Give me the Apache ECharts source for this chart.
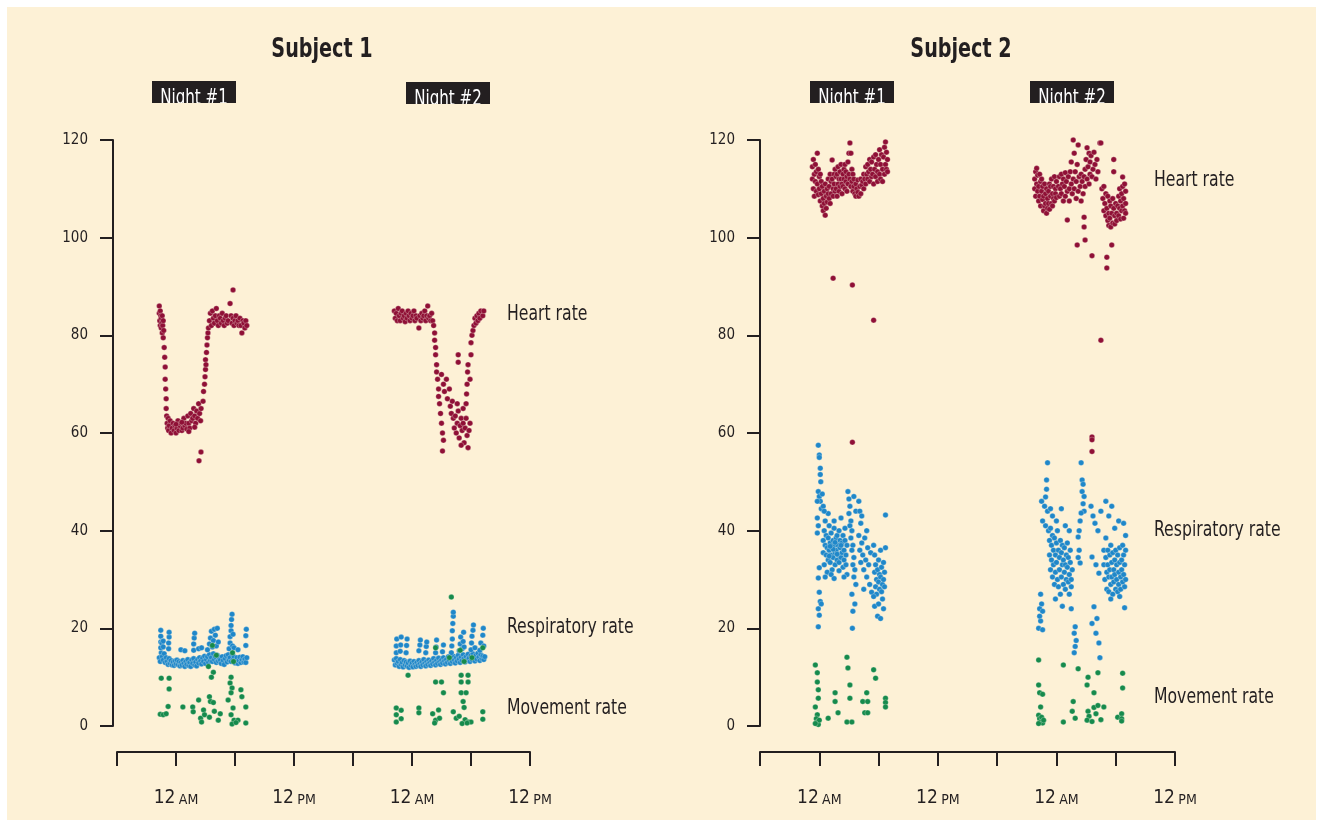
<!DOCTYPE html>
<html><head><meta charset="utf-8">
<script src="https://cdn.jsdelivr.net/npm/echarts@6/dist/echarts.min.js"></script>
<style>html,body{margin:0;padding:0;background:#ffffff}#c{width:1322px;height:827px}</style>
</head><body><div id="c"></div>
<script>
// ---- data: [hours from midnight of night 1, value] ----
const xLabelHours = [0, 12, 24, 36];
const xLabelText = ['12 AM', '12 PM', '12 AM', '12 PM'];
const subjects = ['Subject 1', 'Subject 2'];
const nights = ['Night #1', 'Night #2'];
const seriesNames = ['Heart rate', 'Respiratory rate', 'Movement rate'];

const s1Heart = [
[-1.7,86],[-1.7,84.5],[-1.65,83],[-1.6,85],[-1.6,82],[-1.55,84],[-1.5,83.5],[-1.5,81.5],[-1.45,82.5],[-1.4,84],[-1.4,80.5],[-1.35,82],[-1.3,83],[-1.3,79.5],[-1.25,81],
[-1.2,77.5],[-1.15,75.5],[-1.1,73.5],[-1.1,71],[-1.05,69],[-1.0,67],[-1.0,65],[-0.95,63.5],
[-0.9,62],[-0.85,61],[-0.8,63],[-0.75,60.5],[-0.7,61.5],[-0.6,62.5],[-0.5,60],[-0.4,61],[-0.3,62],[-0.2,60.5],[-0.1,61.5],[0,60],[0.1,61],[0.2,62.5],[0.3,60.5],[0.4,61.5],[0.5,62],[0.6,60.5],[0.7,61],[0.8,63],[0.9,61.5],[1.0,62],[1.1,60.8],[1.2,63.5],[1.3,62],[1.4,61],[1.5,64],[1.6,62.5],[1.7,63],[1.8,65],[1.9,63.5],[2.0,62],[2.1,64.5],[2.2,63],[2.3,66],[2.4,64],[2.5,62.5],[2.55,65],[0.0,61.8],[0.6,62.2],[1.3,60.3],[1.9,61.2],
[2.54,56.1],[2.34,54.3],
[2.75,66.5],[2.8,68.5],[2.9,70],[2.95,71.5],[3.0,73],[3.0,75],[3.05,74],[3.1,76.5],[3.15,78],[3.2,79.5],[3.25,80.5],[3.3,81.5],
[3.4,83],[3.5,84.5],[3.6,82],[3.7,85],[3.8,83.5],[3.9,82.5],[4.0,84],[4.1,85.5],[4.2,83],[4.3,82],[4.4,84],[4.5,83.5],[4.6,82.5],[4.7,84.5],[4.8,83],[4.9,82],[5.0,83.5],[5.1,84],[5.2,82.5],[5.3,83],[5.5,86.5],[5.8,89.3],[5.6,84],[5.7,82.5],[5.8,83.5],[5.9,82],[6.0,83],[6.1,84],[6.2,82.5],[6.3,83],[6.4,82],[6.5,83.5],[6.6,82],[6.7,80.5],[6.8,83],[6.9,82.5],[7.0,81.5],[7.1,83],[7.2,82],
[22.2,85],[22.3,83.5],[22.4,84.5],[22.5,83],[22.6,85.5],[22.7,84],[22.8,83],[22.9,84.5],[23.0,85],[23.1,83.5],[23.2,84],[23.3,82.8],[23.4,84.5],[23.5,83.5],[23.6,85],[23.7,84],[23.8,83],[23.9,84.5],[24.0,83.5],[24.1,84],[24.2,85],[24.3,83],[24.4,84],[24.5,83.5],[24.7,81.5],[24.8,84],[24.9,83],[25.0,84.5],[25.1,83.5],[25.2,84],[25.3,85],[25.4,83],[25.5,84],[25.6,86],[25.7,83.5],[25.8,84],[25.9,83],[26.0,84.5],[26.1,83],
[26.2,82],[26.3,80.5],[26.3,79],[26.4,77.5],[26.4,76],[26.5,74],[26.5,72.5],[26.6,71],[26.7,69],[26.7,67.5],[26.8,66],[26.9,64],[27.0,62],[27.1,60],[27.2,58.5],[27.1,56.3],
[27.0,72],[27.2,70],[27.3,68.5],[27.5,71],[27.6,67],[27.8,69],[27.9,65.5],[28.0,64],[28.1,66.5],[28.2,63],[28.7,76],[28.7,74.5],
[28.3,61],[28.4,63.5],[28.5,60],[28.6,62],[28.7,64.5],[28.8,59],[28.9,61.5],[29.0,63],[29.1,60.5],[29.2,62],[29.3,58],[29.4,61],[29.5,63],[29.6,59.5],[29.7,57],[29.8,60.5],[29.9,62],[29.2,65],[28.6,66],[29.0,57.5],
[29.5,66],[29.55,68],[29.6,70],[29.65,72.5],[29.7,74],[29.9,71],[30.0,76],[30.0,78.5],[30.1,80],[30.2,81],[30.3,82],[30.4,83.5],[30.5,82.5],[30.6,84],[30.7,83],[30.8,84.5],[30.9,83.5],[31.0,85],[31.2,84],[31.3,85]
];

const s1Resp = [
[-1.7,14],[-1.6,13.2],[-1.5,15],[-1.4,14.2],[-1.3,13.5],[-1.2,14.8],[-1.1,13],[-1.0,14],[-0.9,13.2],[-0.8,12.6],[-0.7,13.8],[-0.6,12.8],[-0.5,13.4],[-0.4,12.5],[-0.3,13.1],[-0.2,12.4],[-0.1,13.3],[0,12.7],[0.1,13.5],[0.2,12.6],[0.3,13.2],[0.4,12.3],[0.5,13],[0.6,12.5],[0.7,13.4],[0.8,12.8],[0.9,12.2],[1.0,13.2],[1.1,12.6],[1.2,13.6],[1.3,12.4],[1.4,13],[1.5,12.2],[1.6,13.5],[1.7,12.8],[1.8,13.8],[1.9,12.5],[2.0,13.1],[2.1,12.3],[2.2,13.6],[2.3,12.9],[2.4,14],[2.5,13.3],[2.6,12.7],[2.7,13.9],[2.8,13.2],[2.9,14.3],[3.0,12.8],[3.1,13.6],[3.2,14.2],[3.3,13],[3.4,14.6],[3.5,13.4],[3.6,14],[3.7,13.2],[3.8,14.8],[3.9,13.6],[4.0,14.2],[4.1,13],[4.2,14.5],[4.3,13.3],[4.4,14],[4.5,13.5],[4.6,12.8],[4.7,14.2],[4.8,13.4],[4.9,12.6],[5.0,13.8],[5.1,14.4],[5.2,13.1],[5.3,14.6],[5.4,13.5],[5.5,14],[5.6,13.2],[5.7,14.8],[5.8,13.6],[5.9,14.2],[6.0,12.9],[6.1,13.5],[6.2,14],[6.3,12.8],[6.4,13.4],[6.5,14.1],[6.6,13],[6.7,13.6],[6.8,14.2],[6.9,13.1],[7.0,13.7],[7.1,13],[7.2,14],
[-1.55,16],[-1.55,17.2],[-1.55,18.4],[-1.55,19.6],[-1.45,17],[-1.3,16.2],[-1.3,17.4],[-0.75,15.8],[-0.75,17],[-0.7,18.2],[-0.7,19.2],[0.5,15.6],[0.9,15.4],[1.8,15.5],[1.8,16.8],[1.85,18],[1.9,19],[2.3,15.8],[2.6,16],[3.2,15.6],[3.4,16.8],[3.5,18],[3.6,19.4],[3.7,16.2],[3.8,17.5],[3.9,19.8],[4.0,18.6],[4.1,16.4],[4.2,20],[4.3,17.2],[5.4,15.8],[5.5,17],[5.5,18.3],[5.6,19.5],[5.6,20.6],[5.65,21.8],[5.7,22.9],[5.75,16.4],[5.8,18.8],[5.9,16],[6.3,15.6],[7.1,16.5],[7.1,18.5],[7.15,19.8],
[22.2,13.5],[22.3,12.5],[22.4,13.8],[22.5,12.8],[22.6,13.2],[22.7,12.2],[22.8,13.6],[22.9,12.6],[23.0,13],[23.1,12.1],[23.2,13.4],[23.3,12.5],[23.4,13.1],[23.5,12.3],[23.6,12.9],[23.7,12],[23.8,13.3],[23.9,12.4],[24.0,12.9],[24.1,12.1],[24.2,13.2],[24.3,12.6],[24.4,12.2],[24.5,13],[24.6,12.4],[24.7,13.4],[24.8,12.7],[24.9,12.2],[25.0,13.1],[25.1,12.5],[25.2,13.6],[25.3,12.8],[25.4,12.3],[25.5,13.2],[25.6,12.6],[25.7,13.5],[25.8,12.9],[25.9,12.4],[26.0,13.3],[26.1,12.7],[26.2,13.8],[26.3,13],[26.4,12.5],[26.5,13.4],[26.6,12.8],[26.7,13.9],[26.8,13.1],[26.9,12.6],[27.0,13.5],[27.1,12.9],[27.2,14],[27.3,13.3],[27.4,12.7],[27.5,13.6],[27.6,13],[27.7,14.2],[27.8,13.4],[27.9,12.8],[28.0,13.8],[28.1,13.2],[28.2,14.3],[28.3,13.5],[28.4,12.9],[28.5,14],[28.6,13.3],[28.7,14.5],[28.8,13.7],[28.9,13],[29.0,14.1],[29.1,13.4],[29.2,14.6],[29.3,13.8],[29.4,13.1],[29.5,14.2],[29.6,13.5],[29.7,14.7],[29.8,13.9],[29.9,13.2],[30.0,14.4],[30.1,13.6],[30.2,14.8],[30.3,14],[30.4,13.3],[30.5,14.5],[30.6,13.7],[30.7,14.9],[30.8,14.1],[30.9,13.4],[31.0,14.6],[31.1,13.8],[31.2,14.3],[31.3,13.6],[31.4,14.2],
[22.4,15],[22.4,16.4],[22.45,17.8],[22.8,15.3],[22.85,16.6],[22.9,18.2],[23.4,15],[23.45,16.5],[23.5,17.8],[24.7,15.4],[24.8,16.6],[24.85,17.6],[25.4,15],[25.45,16.3],[25.5,17.2],[26.4,15],[26.45,16.2],[26.5,17.6],[27.1,15.2],[27.2,16.6],[28.0,15],[28.05,16.4],[28.1,17.8],[28.1,19.5],[28.15,21],[28.2,22.5],[28.2,23.3],[28.8,15.4],[28.9,16.8],[28.95,18.2],[29.1,15.8],[29.2,17.3],[29.25,19.2],[29.3,16.2],[30.0,15.6],[30.05,17],[30.1,18.4],[30.2,19.6],[30.25,20.7],[30.4,16],[30.9,15.5],[31.0,17],[31.2,18.6],[31.25,20],[31.3,16.4]
];

const s1Move = [
[-1.5,9.8],[-0.7,9.8],[-0.7,7.6],[-1.6,2.4],[-1.3,2.3],[-1.0,2.5],[-0.8,4],[0.7,3.9],[1.7,3.9],[1.75,2.9],[2.3,5.3],[2.5,1.6],[2.6,0.8],[2.8,3.3],[2.9,2.3],[3.4,6],[3.4,1.8],[3.5,5],[3.8,4.8],[3.9,3],[3.8,11],[3.6,10],[3.3,12.2],[3.7,16.5],[4.1,14.5],[4.3,1.2],[5.3,5.3],[5.6,10],[5.5,8.8],[5.7,7.8],[5.6,6.8],[5.8,3.7],[5.6,2.3],[5.9,1.2],[5.7,0.4],[6.3,1.2],[6.6,7.4],[6.7,6],[7.1,3.9],[7.1,0.6],[5.75,15],[5.85,13.2],[6.1,0.7],[4.5,2.5],
[28.0,26.4],[23.6,10.4],[26.4,9],[27.0,9],[27.2,6.8],[29.0,10.4],[29.7,10.4],[29.0,9],[29.7,9],[29.0,6.8],[29.5,6.8],[22.4,3.7],[22.4,2.3],[22.4,0.8],[22.9,3.2],[22.9,1.5],[24.7,3.7],[24.7,2.7],[26.1,2.5],[26.4,1.2],[26.7,3.3],[26.3,0.6],[26.8,1.6],[28.2,2.9],[28.5,1.6],[28.8,2],[29.2,5],[29.3,3.8],[29.4,1.3],[29.7,0.8],[30.0,0.8],[29.1,0.5],[29.6,0.6],[31.2,2.9],[31.2,1.4],[26.4,16],[27.8,14],[29.3,13.2],[30.1,14],[31.2,16],[28.9,15.5]
];

const s2Heart = [
[-0.7,112],[-0.7,114.5],[-0.6,110],[-0.6,116],[-0.5,113],[-0.5,108.5],[-0.4,111.5],[-0.4,115],[-0.3,109.5],[-0.3,113.5],[-0.2,117.3],[-0.2,111],[-0.1,108.8],[-0.1,114],[0,112.5],[0,110],[0.1,107.5],[0.1,113],[0.2,109],[0.2,111.5],[0.3,106.5],[0.3,110.5],[0.4,108],[0.4,105.5],[0.5,109.5],[0.5,107],[0.6,104.6],[0.6,111],[0.7,106],[0.7,108.5],[0.8,110],[0.8,107.3],[0.9,112],[0.9,109],[1.0,108],[1.0,110.5],[1.1,113],[1.1,107],[1.2,111.5],[1.2,109],[1.3,115.9],[1.3,112],[1.4,110],[1.4,108.5],[1.5,113],[1.5,111],[1.6,109.5],[1.6,114],[1.7,112.5],[1.7,110],[1.8,108.5],[1.8,113],[1.9,111],[1.9,114.5],[2.0,109.5],[2.0,112],[2.1,113.5],[2.1,110.5],[2.2,112],[2.2,115],[2.3,111],[2.3,109],[2.4,113],[2.4,110.5],[2.5,114],[2.5,112],[2.6,110],[2.6,115],[2.7,111.5],[2.7,113.5],[2.8,109.5],[2.8,112.5],[2.9,115.5],[2.9,111],[3.0,117.3],[3.0,113],[3.1,119.4],[3.1,112],[3.2,117.3],[3.2,110.5],[3.3,114],[3.3,111.5],[3.4,113],[3.4,109.5],[3.5,112],[3.5,110.5],[3.6,109],[3.7,111],[3.7,108.5],[3.8,110],[3.9,109.3],[3.9,111.8],[4.0,108.5],[4.1,110.5],[4.2,109],[4.2,112],[4.3,110.8],[4.4,111.5],[4.5,110],[4.5,113],[4.6,112],[4.7,114.5],[4.7,111],[4.8,113],[4.9,115],[4.9,112],[5.0,113.5],[5.1,116],[5.1,111.5],[5.2,114],[5.3,112.5],[5.3,115.5],[5.4,113],[5.5,116.5],[5.5,111],[5.6,114],[5.7,117],[5.7,112.5],[5.8,115],[5.9,113.5],[5.9,111.5],[6.0,116],[6.1,118],[6.1,113],[6.2,115],[6.2,112],[6.3,117],[6.4,114],[6.4,111.5],[6.5,116.5],[6.6,113],[6.6,118.5],[6.7,115],[6.7,119.6],[6.8,114],[6.8,117.5],[6.9,116],[6.9,113.5],
[1.4,91.7],[3.35,90.3],[5.5,83.1],[3.35,58.1],
[21.8,112],[21.8,110],[21.9,113.5],[21.9,108.5],[22.0,114.2],[22.0,111],[22.1,109.5],[22.1,112.8],[22.2,107.5],[22.2,110.5],[22.3,113],[22.3,108.5],[22.4,111.5],[22.4,106.5],[22.5,109.5],[22.5,112],[22.6,107.8],[22.6,110.5],[22.7,105.5],[22.7,108.5],[22.8,111],[22.8,106.5],[22.9,109],[22.9,107],[23.0,105],[23.0,110],[23.1,108],[23.1,106],[23.2,109.5],[23.2,107],[23.3,111],[23.3,105.8],[23.4,108.5],[23.4,110.5],[23.5,107],[23.5,112],[23.6,109],[23.6,106.5],[23.7,110.5],[23.7,108],[23.8,112.5],[23.8,107.5],[23.9,110],[23.9,109],[24.0,111.5],[24.0,108.2],
[24.2,110.5],[24.3,112.5],[24.3,108.5],[24.4,110],[24.5,113],[24.5,109],[24.6,111],[24.7,107.5],[24.7,112],[24.8,110.5],[24.9,108.5],[24.9,113.3],[25.0,111.5],[25.1,109.5],[25.1,103.6],[25.2,112.5],[25.3,110],[25.3,107.5],[25.4,113.5],[25.5,111],[25.5,115.5],[25.6,109],[25.7,122.5],[25.7,121.3],[25.7,120],[25.7,112],[25.8,117.3],[25.8,110],[25.9,113.5],[26.0,108],[26.0,111.5],[26.1,115],[26.2,119],[26.2,109.5],[26.3,112.5],[26.4,110.5],[26.5,113],[26.5,107.5],[26.6,111.5],[26.8,104.2],[26.8,102.2],[26.7,109],[26.8,112.5],[26.9,114],[26.9,110.5],[26.9,99.5],[26.1,98.5],[27.0,116],[27.1,112],[27.1,118.4],[27.2,114.5],[27.3,117.3],[27.3,111],[27.4,115.5],[27.4,113],[27.5,116.8],[27.6,112.5],[27.6,96.3],[27.7,114],[27.8,117.5],[28.4,119.4],[28.5,119.4],[27.9,115],[28.0,112],[28.1,116],[28.2,113.5],
[28.6,110],[28.7,108],[28.8,105.5],[28.8,110.5],[28.9,107],[29.0,104.5],[29.0,109],[29.1,106],[29.2,103.5],[29.2,108.5],[29.3,105],[29.8,116],[29.3,102.5],[29.4,107.5],[29.8,113.5],[29.4,104],[29.5,106.5],[29.5,102.2],[29.6,105],[29.7,108],[29.7,103],[29.8,106],[29.9,104.5],[29.9,102.8],[30.0,107],[30.1,105],[30.1,103.5],[30.2,106.5],[30.3,108.5],[30.3,104.5],[30.4,110],[30.4,106],[30.5,103.8],[30.5,107.5],[30.6,105.5],[30.7,112.4],[30.6,109],[30.7,106.5],[30.8,104],[30.7,110.5],[30.8,108],[30.9,105.5],[30.9,111],[31.0,107],[31.0,109.5],[31.0,105],
[29.1,96],[29.1,93.8],[29.6,98.5],[28.5,79],[27.6,59.2],[27.6,58.6],[27.6,56.2]
];

const s2Resp = [
[-0.1,57.5],[0,55.5],[0,55],[0.1,52.8],[0.1,51.5],[0.15,50],[-0.1,48],[0,47],[0.1,46],[-0.2,42.6],[-0.1,41],[-0.2,39.5],[0,32.4],[-0.1,30.3],[0,27.4],[0.1,25.5],[0.2,25],[-0.1,24],[0,22.7],[-0.1,20.3],[0.2,44.5],[0.3,47.5],[0.4,45],[-0.2,46],
[0.4,38],[0.4,35.5],[0.5,40],[0.5,33],[0.6,37],[0.6,42],[0.7,35],[0.7,39],[0.8,36.5],[0.8,31.5],[0.9,38.5],[0.9,34],[1.0,41],[1.0,36],[1.1,37.5],[1.1,33.5],[1.2,39.5],[1.2,35],[1.3,36.5],[1.3,32],[1.4,38],[1.4,34.5],[1.5,37],[1.5,40.5],[1.6,35.5],[1.6,33],[1.7,38.5],[1.7,36],[1.8,34],[1.8,39],[1.9,37],[1.9,35],[2.0,40],[2.0,33.5],[2.1,36.5],[2.1,38],[2.2,34.5],[2.2,42.6],[2.3,37.5],[2.3,35.5],[2.4,39],[2.4,32.5],[2.5,36],[2.5,34],[2.6,38],[2.6,40.5],[2.7,35],[2.7,33],[2.8,37],[2.8,31],[0.6,30.5],[1.2,31],[1.5,30.2],[2.0,31.8],[0.9,43.5],[1.5,42],[2.5,30.5],[0.5,44],[1.0,34.8],[1.4,36.2],[1.8,35.2],[2.2,37],[1.6,37.6],[1.1,36.8],
[2.9,48],[3.0,46.5],[3.1,45],[3.0,43.5],[3.2,42],[3.1,41],[3.3,40],[3.2,38.5],[3.4,37],[3.3,36],[3.5,34.5],[3.4,33],[3.6,32],[3.5,30.5],[3.7,29],[3.3,27],[3.6,25],[3.4,23.5],[3.35,20],[3.7,44],[3.5,47],
[4.0,46],[4.1,44],[4.2,41.5],[4.0,39],[4.3,37.5],[4.1,36],[4.4,35],[4.2,33.5],[4.5,32],[4.6,38.5],[4.7,34],[4.8,30.5],[4.9,36.5],[5.0,33],[5.1,29],[5.2,35.5],[5.3,27.4],[4.5,28],[4.3,43],[4.8,40],
[5.5,37],[5.6,35],[5.7,33],[5.6,31.5],[5.8,30],[5.7,28.5],[5.9,32],[5.8,27],[6.0,29.5],[6.0,34],[6.1,31],[6.1,28],[6.2,36],[6.2,30.5],[6.3,27.5],[6.3,32.5],[6.4,29],[6.4,26],[6.5,30],[6.5,33.5],[6.6,28.5],[6.6,31.5],[6.7,36.5],[6.7,43.2],[5.6,24.5],[5.9,22.5],[6.2,22],[6.0,25],[6.5,24],[5.5,26.5],
[23.1,53.9],[23.0,50.4],[23.0,48.5],[22.9,46.9],[22.5,46],[22.8,45],[23.1,44],[22.6,42],[22.9,41],[23.2,40],[22.4,27],[22.5,25],[22.3,24],[22.6,23.5],[22.4,21.5],[22.2,20],[22.6,19.7],[22.3,22.5],
[23.3,38],[23.3,35],[23.4,40.5],[23.4,32],[23.5,37],[23.5,34],[23.6,39],[23.6,30.5],[23.7,36],[23.7,33],[23.8,38.5],[23.8,29],[23.9,35],[23.9,31.5],[24.0,37.5],[24.0,33.5],[24.1,40],[24.1,30],[24.2,36],[24.2,28.5],[24.3,34.5],[24.3,32],[24.4,38],[24.4,27],[24.5,35.5],[24.5,30.5],[24.6,33],[24.6,37],[24.7,29],[24.7,34],[24.8,31.5],[24.8,36.5],[24.9,28],[24.9,33],[25.0,35],[25.0,30],[25.1,32.5],[25.1,37.5],[25.2,29.5],[25.2,34.5],[25.3,31],[25.3,27],[25.4,33.5],[25.4,36],[25.5,30],[25.5,28.5],[25.6,32],[23.6,43],[24.0,42],[24.5,44.5],[24.9,41],[25.3,40],[23.9,26],[24.6,24.5],[25.5,24],[23.4,44.5],
[26.5,53.9],[26.6,50.4],[26.7,49.5],[26.6,48],[26.8,47],[26.7,45.5],[26.8,44],[26.5,43.6],[26.4,42],[26.3,40],[26.2,38.7],[26.3,36],[26.2,34.5],[26.4,33.4],
[25.9,20.3],[25.8,19],[26.0,17.5],[25.9,16.3],[25.8,15],
[27.5,45],[27.7,43],[27.9,41.5],[28.2,40],[27.6,34.6],[28.0,33],[28.3,31.3],[27.8,24.4],[28.1,22],[27.6,21],[28.0,19],[28.3,17],[28.4,14],[28.5,44],
[28.8,36],[28.8,33],[28.9,30],[29.0,38.5],[29.0,34.5],[29.1,31.5],[29.1,28],[29.2,36],[29.2,33],[29.3,30.5],[29.3,27.5],[29.4,35],[29.4,32],[29.5,29],[29.5,37],[29.6,33.5],[29.6,30.5],[29.7,27],[29.7,35.5],[29.8,32],[29.8,29.5],[29.9,34],[29.9,31],[30.0,28],[30.0,36],[30.1,33],[30.1,30],[30.2,27.5],[30.2,35],[30.3,31.5],[30.3,29],[30.4,33.5],[30.4,36.5],[30.5,30.5],[30.5,28],[30.6,34],[30.6,32],[30.7,29.5],[30.7,37],[30.8,31],[30.8,35],[30.9,33],[30.9,28.5],[31.0,30],[31.0,36],[29.0,46],[29.3,43],[29.6,45],[29.9,40.5],[30.3,42],[30.8,41.5],[31.0,39],[30.9,24.2],[29.5,26],[30.4,26.5]
];

const s2Move = [
[-0.4,12.5],[-0.2,10.9],[-0.2,9],[-0.1,7.4],[-0.1,5.7],[-0.4,3.9],[-0.2,2.3],[-0.3,1.5],[-0.2,0.8],[-0.1,0.3],[0,1.2],[-0.4,0.5],[0.9,1.6],[1.6,6.8],[1.6,5],[1.9,2.7],[2.8,14.1],[2.9,11.9],[3.1,8.4],[3.1,5.7],[2.8,0.8],[3.3,0.8],[4.4,5],[4.9,5],[4.8,6.8],[4.6,2.7],[4.9,2.7],[5.5,11.5],[5.7,9.8],[6.7,5.7],[6.7,4.8],[6.7,3.9],
[22.2,13.5],[22.2,8.4],[22.3,6.8],[22.6,6.5],[22.4,3.9],[22.2,2.2],[22.3,1.5],[22.4,0.8],[22.5,1.8],[22.6,0.6],[22.2,0.5],[22.7,1.2],[24.7,12.5],[26.2,11.7],[27.2,10],[28.2,10.9],[27.1,8.4],[27.8,6.8],[25.7,5],[25.6,3],[25.9,1.6],[24.7,0.8],[27.2,3],[27.3,2],[27.1,1.2],[27.8,3.8],[28.2,4.2],[28.0,2.5],[28.8,3.9],[30.7,10.8],[30.7,7.8],[30.2,1.8],[30.6,2.5],[30.6,1.5],[30.6,1],[27.6,0.9],[28.5,1.3]
];

// ---- styling / layout ----
const FONT = "'DejaVu Sans Condensed','DejaVu Sans',sans-serif";
const INK = '#231f20';
const CREAM = '#fdf1d6';
const COLORS = ['#8f1036', '#1f87c9', '#168a4c'];

function xAxisCfg(gi) {
  return {
    type: 'value', gridIndex: gi, min: -6, max: 36, interval: 6, offset: 26,
    axisLine: { onZero: false, lineStyle: { color: INK, width: 2 } },
    axisTick: { length: 14, lineStyle: { color: INK, width: 2 } },
    splitLine: { show: false },
    axisLabel: {
      margin: 37, showMinLabel: true, showMaxLabel: true,
      formatter: function (v) {
        const i = xLabelHours.indexOf(v);
        if (i < 0) return '';
        const parts = xLabelText[i].split(' ');
        return '{n|' + parts[0] + '} {s|' + parts[1] + '}';
      },
      rich: {
        n: { fontFamily: FONT, fontSize: 19, color: INK },
        s: { fontFamily: FONT, fontSize: 14, color: INK, padding: [3, 0, 0, 0] }
      }
    }
  };
}
function yAxisCfg(gi, off) {
  return {
    type: 'value', gridIndex: gi, min: 0, max: 120, interval: 20, offset: off,
    axisLine: { show: true, onZero: false, lineStyle: { color: INK, width: 2 } },
    axisTick: { show: true, length: 13, lineStyle: { color: INK, width: 2 } },
    splitLine: { show: false },
    axisLabel: { margin: 25, fontFamily: FONT, fontSize: 15, color: INK }
  };
}
function sc(name, gi, data, color) {
  return {
    type: 'scatter', name: name, xAxisIndex: gi, yAxisIndex: gi, data: data,
    symbolSize: 5.5, silent: true,
    itemStyle: { color: color, opacity: 1, borderColor: 'rgba(255,250,235,0.45)', borderWidth: 0.6 }
  };
}
function txt(t, x, y, size, sx, opts) {
  return { type: 'text', z: 100, x: x, y: y, scaleX: sx, scaleY: 1,
    style: Object.assign({ text: t, x: 0, y: 0, font: size + 'px ' + FONT, fill: INK, align: 'left', verticalAlign: 'middle' }, opts || {}) };
}
function nightBox(t, x, y) {
  return [
    { type: 'rect', z: 90, shape: { x: x, y: y, width: 84, height: 22 }, style: { fill: INK } },
    { type: 'text', z: 91, x: x + 42, y: y + 28, scaleX: 0.8, style: { text: t, x: 0, y: 0, font: '21px ' + FONT, fill: '#ffffff', align: 'center', verticalAlign: 'bottom' } },
    { type: 'rect', z: 92, shape: { x: x - 4, y: y + 22, width: 92, height: 10 }, style: { fill: CREAM } }
  ];
}

const graphics = [
  { type: 'rect', z: -10, shape: { x: 7, y: 7, width: 1309, height: 813 }, style: { fill: CREAM } },
  txt(subjects[0], 322, 50, 27, 0.79, { align: 'center', font: 'bold 27px ' + FONT }),
  txt(subjects[1], 961, 50, 27, 0.79, { align: 'center', font: 'bold 27px ' + FONT }),
  ...nightBox(nights[0], 152, 81),
  ...nightBox(nights[1], 406, 82),
  ...nightBox(nights[0], 810, 81),
  ...nightBox(nights[1], 1030, 81),
  txt(seriesNames[0], 507, 315, 21, 0.83),
  txt(seriesNames[1], 507, 628, 21, 0.83),
  txt(seriesNames[2], 507, 709, 21, 0.83),
  txt(seriesNames[0], 1154, 181, 21, 0.83),
  txt(seriesNames[1], 1154, 531, 21, 0.83),
  txt(seriesNames[2], 1154, 698, 21, 0.83)
];

const chart = echarts.init(document.getElementById('c'), null, { renderer: 'canvas' });
chart.setOption({
  backgroundColor: '#ffffff',
  animation: false,
  grid: [
    { left: 117, top: 140, width: 413, height: 586 },
    { left: 760, top: 140, width: 415, height: 586 }
  ],
  xAxis: [xAxisCfg(0), xAxisCfg(1)],
  yAxis: [yAxisCfg(0, 4), yAxisCfg(1, 0)],
  graphic: graphics,
  series: [
    sc(seriesNames[0], 0, s1Heart, COLORS[0]),
    sc(seriesNames[1], 0, s1Resp, COLORS[1]),
    sc(seriesNames[2], 0, s1Move, COLORS[2]),
    sc(seriesNames[0], 1, s2Heart, COLORS[0]),
    sc(seriesNames[1], 1, s2Resp, COLORS[1]),
    sc(seriesNames[2], 1, s2Move, COLORS[2])
  ]
});
</script></body></html>
